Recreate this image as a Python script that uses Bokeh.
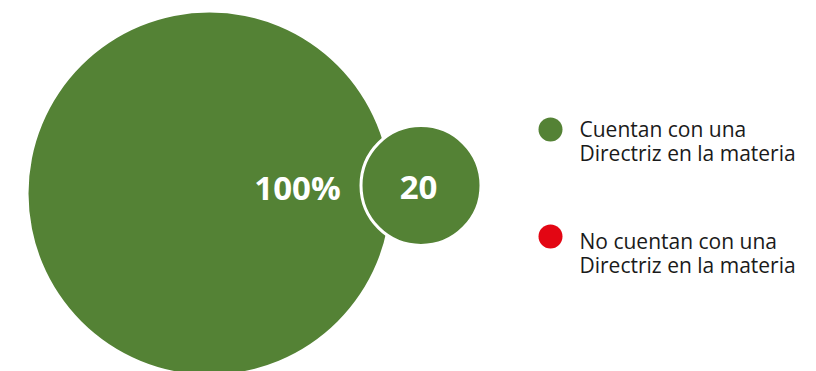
from bokeh.plotting import figure
from bokeh.models import ColumnDataSource
from bokeh.core.properties import value
from bokeh.embed import file_html
from bokeh.resources import INLINE
import math

# ---- data ----
categories = ["Cuentan con una\nDirectriz en la materia",
              "No cuentan con una\nDirectriz en la materia"]
percentages = [100, 0]
count_label = ["20"]
colors = ["#548235", "#E30613"]

W, H = 816, 371
p = figure(width=W, height=H, x_range=(0, W), y_range=(0, H),
           output_backend="svg", toolbar_location=None, min_border=0,
           outline_line_color=None)
p.axis.visible = False
p.grid.visible = False
p.background_fill_color = "white"
p.border_fill_color = "white"

# big bubble: area proportional to percentage
R_MAX = 181
big_r = R_MAX * math.sqrt(percentages[0] / 100)
p.circle(x=[209], y=[178], radius=big_r, fill_color=colors[0], line_color=None)

# small bubble with count
p.circle(x=[420.5], y=[186], radius=60, fill_color=colors[0],
         line_color="white", line_width=3)

p.text(x=[297], y=[184], text=[f"{percentages[0]}%"], text_color="white",
       text_font=value("Open Sans"), text_font_style="bold",
       text_font_size="33px", text_align="center", text_baseline="middle")
p.text(x=[418], y=[184], text=count_label, text_color="white",
       text_font=value("Open Sans"), text_font_style="bold",
       text_font_size="33px", text_align="center", text_baseline="middle")

# legend
leg = ColumnDataSource(dict(x=[550, 550], y=[242, 135], tx=[579, 579],
                            ty=[230.5, 118.5], label=categories, color=colors))
p.circle(x="x", y="y", radius=12, fill_color="color", line_color=None, source=leg)
p.text(x="tx", y="ty", text="label", source=leg, text_color="#1a1a1a",
       text_font=value("Open Sans"), text_font_size="21px",
       text_align="left", text_baseline="middle", text_line_height=0.87)

open("out.html", "w").write(file_html(p, INLINE))
